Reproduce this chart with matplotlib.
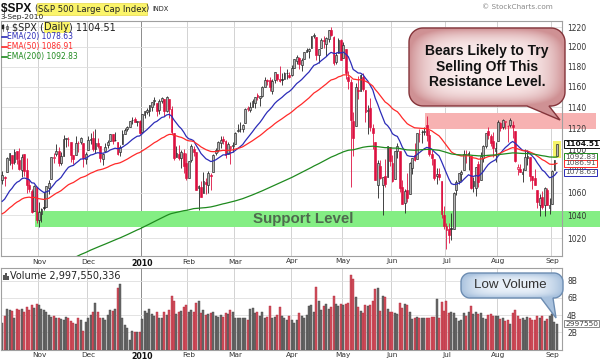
import numpy as np
import matplotlib
matplotlib.use("Agg")
import matplotlib.pyplot as plt
from matplotlib.patches import Rectangle, Polygon
from matplotlib.transforms import blended_transform_factory

# ---------------- data (S&P 500 daily, 12-Oct-2009 .. 3-Sep-2010) ----------------
prior_close = 1071.49
opens = [1071.6, 1074.9, 1078.7, 1090.4, 1094.7, 1088.2, 1098.6, 1090.4, 1080.9, 1095.6, 1080.4, 1067.5, 1061.5, 1043.7, 1065.4,
         1036.2, 1040.9, 1047.1, 1047.3, 1064.9, 1072.3, 1091.9, 1096.0, 1098.3, 1087.6, 1094.1, 1109.2, 1109.4, 1106.4, 1094.7, 1094.9, 1105.8, 1106.5, 1105.5, 1091.1,
         1098.9, 1109.0, 1110.6, 1100.4, 1105.5, 1103.0, 1091.1, 1098.7, 1103.9, 1107.8, 1114.1, 1108.6, 1106.4, 1097.9, 1105.3, 1114.5, 1118.8, 1121.1, 1127.5, 1128.6, 1125.5, 1126.6,
         1116.6, 1132.7, 1135.7, 1136.3, 1140.5, 1146.0, 1143.8, 1137.3, 1145.7, 1147.7, 1136.0, 1147.9, 1138.7, 1115.5, 1092.4, 1095.8, 1091.9, 1096.9, 1087.6,
         1073.9, 1090.1, 1100.7, 1097.3, 1064.1, 1065.5, 1060.1, 1069.5, 1067.1, 1076.0, 1079.1, 1096.1, 1099.0, 1105.5, 1110.0, 1107.5, 1095.9, 1101.2, 1103.1,
         1105.4, 1117.0, 1119.4, 1119.1, 1125.1, 1138.4, 1137.6, 1140.2, 1144.0, 1151.7, 1148.5, 1150.8, 1159.9, 1166.1, 1166.7, 1155.3, 1166.5, 1172.7, 1167.6, 1167.6, 1167.7, 1173.8, 1171.8,
         1171.2, 1178.7, 1186.0, 1188.2, 1181.8, 1187.5, 1194.9, 1195.9, 1198.7, 1210.8, 1210.2, 1192.1, 1199.0, 1207.2, 1202.5, 1207.9, 1217.1, 1209.9, 1184.6, 1193.3, 1206.8,
         1188.6, 1197.5, 1169.2, 1164.4, 1127.0, 1122.3, 1156.4, 1155.4, 1170.0, 1157.2, 1136.5, 1138.8, 1119.6, 1107.3, 1067.3, 1084.8, 1067.4, 1075.5, 1074.3, 1102.6,
         1087.3, 1073.0, 1098.8, 1098.4, 1065.8, 1050.8, 1062.8, 1058.8, 1082.7, 1095.0, 1091.2, 1114.0, 1116.0, 1116.2, 1122.8, 1113.9, 1095.6, 1090.9, 1075.1, 1077.5, 1071.1, 1040.6,
         1031.1, 1027.7, 1028.1, 1028.5, 1062.9, 1070.5, 1077.2, 1080.6, 1095.6, 1094.5, 1093.9, 1066.0, 1064.5, 1086.7, 1072.1, 1092.2, 1102.9, 1117.4, 1112.8, 1108.1, 1098.4,
         1107.5, 1125.3, 1121.1, 1125.8, 1122.1, 1122.8, 1122.9, 1116.9, 1081.5, 1082.2, 1077.5, 1081.2, 1092.1, 1092.4, 1075.6, 1073.4, 1062.9, 1049.0, 1056.3, 1049.3, 1062.9, 1046.9,
         1049.7, 1080.7, 1093.6]
highs = [1079.5, 1075.3, 1093.2, 1096.6, 1094.7, 1100.2, 1098.6, 1101.4, 1095.2, 1095.8, 1091.8, 1072.5, 1063.3, 1066.8, 1065.4,
         1052.2, 1046.4, 1061.0, 1066.7, 1071.5, 1093.2, 1096.4, 1105.4, 1101.7, 1097.6, 1113.7, 1110.5, 1111.1, 1106.4, 1094.7, 1112.4, 1107.6, 1111.2, 1105.5, 1097.2,
         1112.3, 1115.6, 1117.3, 1119.1, 1110.7, 1103.0, 1097.0, 1106.3, 1108.5, 1114.8, 1114.1, 1116.2, 1106.4, 1103.7, 1117.7, 1120.3, 1122.1, 1126.5, 1130.4, 1130.4, 1126.4, 1127.6,
         1133.9, 1136.6, 1139.2, 1142.5, 1145.4, 1149.7, 1143.8, 1148.4, 1150.4, 1147.7, 1150.5, 1147.9, 1141.6, 1115.5, 1102.7, 1103.7, 1099.5, 1100.2, 1096.5,
         1089.4, 1104.7, 1102.7, 1097.3, 1067.1, 1071.2, 1079.3, 1073.7, 1080.0, 1077.8, 1095.7, 1101.0, 1108.2, 1112.4, 1112.3, 1108.6, 1106.4, 1103.5, 1107.2,
         1116.1, 1123.5, 1125.6, 1123.7, 1139.4, 1141.1, 1145.4, 1148.3, 1150.2, 1153.4, 1151.0, 1160.3, 1169.2, 1167.8, 1169.2, 1167.8, 1174.7, 1173.0, 1180.7, 1173.9, 1174.9, 1177.8, 1174.6,
         1181.4, 1187.7, 1191.8, 1189.6, 1188.6, 1194.7, 1199.2, 1199.0, 1210.7, 1213.9, 1210.2, 1197.9, 1208.6, 1211.0, 1210.3, 1217.3, 1219.8, 1211.4, 1195.1, 1209.4, 1208.0,
         1205.1, 1197.5, 1176.0, 1167.6, 1135.1, 1163.9, 1170.5, 1172.9, 1173.6, 1157.2, 1141.9, 1148.7, 1124.3, 1107.3, 1090.2, 1090.0, 1074.8, 1090.8, 1103.5, 1102.6,
         1094.8, 1098.6, 1105.7, 1098.4, 1071.4, 1063.2, 1077.7, 1087.9, 1092.0, 1105.9, 1115.6, 1118.7, 1117.7, 1121.0, 1131.2, 1118.5, 1099.6, 1090.9, 1083.1, 1082.6, 1071.1, 1048.1,
         1033.6, 1032.9, 1042.5, 1060.9, 1071.3, 1078.2, 1080.8, 1099.1, 1099.1, 1098.7, 1093.9, 1074.7, 1083.9, 1089.0, 1097.5, 1103.7, 1115.0, 1121.0, 1114.7, 1115.9, 1106.4,
         1127.3, 1125.4, 1128.8, 1126.6, 1123.1, 1129.2, 1127.2, 1116.9, 1086.7, 1086.3, 1082.6, 1100.1, 1099.8, 1092.4, 1075.6, 1081.6, 1062.9, 1059.4, 1061.5, 1065.2, 1064.4, 1055.1,
         1081.3, 1090.1, 1105.1]
lows = [1068.0, 1066.7, 1078.7, 1085.9, 1081.5, 1086.5, 1086.2, 1080.8, 1074.3, 1075.5, 1060.3, 1060.6, 1042.2, 1043.7, 1033.4,
        1029.4, 1033.9, 1045.2, 1047.3, 1059.3, 1072.3, 1087.4, 1093.5, 1084.7, 1085.3, 1094.1, 1102.2, 1102.7, 1088.4, 1086.8, 1094.9, 1097.6, 1104.8, 1083.7, 1086.3,
        1098.9, 1105.3, 1098.7, 1096.5, 1100.8, 1088.6, 1085.9, 1098.7, 1101.3, 1107.8, 1105.4, 1107.9, 1095.0, 1093.9, 1105.3, 1114.5, 1116.9, 1121.1, 1123.5, 1126.1, 1121.9, 1114.8,
        1116.6, 1129.7, 1133.9, 1131.3, 1136.2, 1142.0, 1131.8, 1133.2, 1143.8, 1131.4, 1135.2, 1129.3, 1114.8, 1090.2, 1092.4, 1089.9, 1083.1, 1078.5, 1071.6,
        1073.9, 1088.0, 1093.6, 1062.8, 1044.5, 1056.5, 1060.1, 1059.3, 1060.1, 1063.0, 1079.1, 1094.7, 1097.5, 1100.8, 1105.4, 1092.2, 1095.5, 1086.0, 1097.6,
        1105.4, 1116.5, 1116.6, 1116.1, 1125.1, 1136.8, 1134.9, 1140.1, 1139.0, 1147.0, 1141.5, 1150.4, 1159.9, 1161.9, 1155.3, 1152.9, 1163.8, 1166.0, 1165.1, 1161.5, 1167.7, 1168.0, 1168.5,
        1170.7, 1178.7, 1182.8, 1177.3, 1175.1, 1187.1, 1194.7, 1188.8, 1198.7, 1208.5, 1186.8, 1183.7, 1199.0, 1198.9, 1190.2, 1205.1, 1211.1, 1181.6, 1182.8, 1193.3, 1186.3,
        1188.6, 1168.1, 1158.1, 1065.8, 1094.2, 1122.3, 1147.7, 1155.4, 1156.1, 1126.1, 1114.0, 1117.2, 1100.7, 1071.6, 1055.9, 1072.7, 1040.8, 1065.6, 1074.3, 1084.2,
        1069.9, 1072.2, 1091.8, 1060.5, 1049.9, 1042.2, 1052.3, 1058.8, 1077.5, 1089.0, 1091.2, 1107.1, 1105.9, 1113.9, 1108.2, 1094.2, 1085.3, 1071.6, 1067.9, 1071.5, 1038.1, 1028.3,
        1010.9, 1015.9, 1018.4, 1028.5, 1058.2, 1068.1, 1070.4, 1080.6, 1087.7, 1080.5, 1063.3, 1061.1, 1056.9, 1065.3, 1072.1, 1087.9, 1101.3, 1109.8, 1103.1, 1092.8, 1088.0,
        1107.5, 1116.8, 1119.5, 1118.9, 1107.2, 1120.9, 1111.0, 1088.6, 1076.7, 1079.0, 1069.5, 1081.2, 1085.8, 1070.7, 1063.9, 1067.1, 1046.3, 1039.8, 1045.4, 1039.7, 1048.8, 1040.9,
        1049.7, 1080.4, 1093.6]
closes = [1076.19, 1073.19, 1092.02, 1096.56, 1087.68, 1097.91, 1091.06, 1081.40, 1092.91, 1079.60, 1066.95, 1063.41, 1042.63, 1066.11, 1036.19,
          1042.88, 1045.41, 1046.50, 1066.63, 1069.30, 1093.08, 1093.01, 1098.51, 1087.24, 1093.48, 1109.30, 1110.32, 1109.80, 1094.90, 1091.38, 1106.24, 1105.65, 1110.63, 1091.49, 1095.63,
          1108.86, 1109.24, 1099.92, 1105.98, 1103.25, 1091.94, 1095.95, 1102.35, 1106.41, 1114.11, 1107.93, 1109.18, 1096.08, 1102.47, 1114.05, 1118.02, 1120.59, 1126.48, 1127.78, 1126.20, 1126.42, 1115.10,
          1132.99, 1136.52, 1137.14, 1141.69, 1144.98, 1146.98, 1136.22, 1145.68, 1148.46, 1136.03, 1150.23, 1138.04, 1116.48, 1091.76, 1096.78, 1092.17, 1097.50, 1084.53, 1073.87,
          1089.19, 1103.32, 1097.28, 1063.11, 1066.19, 1056.74, 1070.52, 1068.13, 1078.47, 1075.51, 1094.87, 1099.51, 1106.75, 1109.17, 1108.01, 1094.60, 1105.24, 1102.94, 1104.49,
          1115.71, 1118.31, 1118.79, 1122.97, 1138.70, 1138.50, 1140.45, 1145.61, 1150.24, 1149.99, 1150.51, 1159.46, 1166.21, 1165.83, 1159.90, 1165.81, 1174.17, 1167.72, 1165.73, 1166.59, 1173.22, 1173.27, 1169.43,
          1178.10, 1187.44, 1189.44, 1182.45, 1186.44, 1194.37, 1196.48, 1197.30, 1210.65, 1211.67, 1192.13, 1197.52, 1207.17, 1205.94, 1208.67, 1217.28, 1212.05, 1183.71, 1191.36, 1206.78, 1186.69,
          1202.26, 1173.60, 1165.87, 1128.15, 1110.88, 1159.73, 1155.79, 1171.67, 1157.44, 1135.68, 1136.94, 1120.80, 1115.05, 1071.59, 1087.69, 1073.65, 1074.03, 1067.95, 1103.06, 1089.41,
          1070.71, 1098.38, 1102.83, 1064.88, 1050.47, 1062.00, 1055.69, 1086.84, 1091.60, 1089.63, 1115.23, 1114.61, 1116.04, 1117.51, 1113.20, 1095.31, 1092.04, 1073.69, 1076.76, 1074.57, 1041.24, 1030.71,
          1027.37, 1022.58, 1028.06, 1060.27, 1070.25, 1077.96, 1078.75, 1095.34, 1095.17, 1096.48, 1064.88, 1071.25, 1083.48, 1069.59, 1093.67, 1102.66, 1115.01, 1113.84, 1106.13, 1101.53, 1101.60,
          1125.86, 1120.46, 1127.24, 1125.81, 1121.64, 1127.79, 1121.06, 1089.47, 1083.61, 1079.25, 1079.38, 1092.54, 1094.16, 1075.63, 1071.69, 1067.36, 1051.87, 1055.33, 1047.22, 1064.59, 1048.92, 1049.33,
          1080.29, 1090.10, 1104.51]
volumes_b = [3.1, 3.9, 4.7, 4.6, 4.45, 3.7, 4.75, 4.6, 4.75, 4.4, 4.95, 4.6, 5.2, 4.85, 5.3,
             5.15, 4.75, 4.6, 4.4, 4.0, 3.8, 3.9, 3.7, 3.6, 3.5, 3.4, 3.8, 3.6, 3.3, 3.1, 3.0, 3.6, 3.4, 2.1, 3.2,
             3.7, 4.0, 4.4, 5.4, 4.4, 3.7, 3.6, 3.4, 4.0, 4.6, 4.5, 4.75, 7.1, 7.65, 3.6, 2.9, 2.5, 1.1, 2.1, 2.0, 2.0, 2.0,
             3.5, 4.5, 4.2, 4.7, 4.1, 3.9, 4.3, 3.7, 3.6, 4.3, 4.0, 4.6, 6.2, 5.6, 4.1, 4.4, 4.5, 4.9, 5.2,
             4.4, 4.6, 4.3, 5.4, 5.6, 4.2, 4.6, 4.0, 4.1, 4.2, 4.3, 3.9, 3.8, 4.0, 3.8, 4.2, 4.1, 4.6, 4.3,
             3.7, 3.6, 3.7, 3.6, 3.6, 3.4, 4.75, 4.8, 4.2, 4.4, 3.9, 4.3, 3.7, 3.8, 5.0, 3.7, 3.8, 4.0, 4.9, 3.9, 3.7, 3.4, 3.9,
             3.4, 3.1, 3.4, 4.2, 3.9, 3.6, 4.0, 5.0, 5.2, 4.4, 7.3, 5.6, 4.6, 5.1, 5.3, 4.75, 4.9, 6.2, 5.3, 5.0, 5.3,
             5.2, 5.3, 5.45, 8.6, 8.15, 6.1, 4.9, 4.45, 4.2, 5.2, 5.05, 5.2, 5.65, 7.0, 7.15, 4.5, 6.2, 6.1, 4.75, 4.4,
             4.3, 4.2, 4.1, 5.4, 4.85, 5.25, 5.15, 4.4, 3.5, 3.65, 3.8, 3.6, 3.7, 3.6, 3.6, 3.7, 3.8, 3.8, 5.9, 3.6, 5.5, 4.5,
             5.6, 4.2, 4.4, 4.2, 3.6, 3.3, 3.4, 4.2, 3.9, 4.3, 5.0, 4.1, 4.4, 4.1, 4.2, 3.6, 3.5, 4.0, 4.1, 3.9, 3.9,
             3.9, 3.5, 3.6, 3.3, 3.4, 3.0, 4.2, 4.6, 3.9, 3.5, 3.6, 3.4, 3.8, 3.7, 3.4, 3.4, 3.9, 3.6, 3.9, 3.3, 3.5, 3.9,
             4.1, 3.2, 2.9976]

month_labels = ["Nov", "Dec", "2010", "Feb", "Mar", "Apr", "May", "Jun", "Jul", "Aug", "Sep"]
month_start_idx = [15, 35, 57, 76, 95, 118, 139, 159, 181, 202, 224]
price_ticks = [1020, 1040, 1060, 1080, 1100, 1120, 1140, 1160, 1180, 1200, 1220]
vol_ticks = [2, 4, 6, 8]
vol_tick_labels = ["2B", "4B", "6B", "8B"]
ema_periods = [20, 50, 200]
ema_seeds = [1050.0, 1040.0, 975.9]
ema_names = ["EMA(20) 1078.63", "EMA(50) 1086.91", "EMA(200) 1092.83"]
ema_last_values = [1078.63, 1086.91, 1092.83]
support_band = (1030.0, 1044.0)
resistance_band = (1119.5, 1134.0)

# ---------------- derived ----------------
n = len(closes)
idx = np.arange(n)
o = np.array(opens); h = np.array(highs); l = np.array(lows); c = np.array(closes)
prev = np.concatenate([[prior_close], c[:-1]])
down = c < prev

def ema(vals, period, seed):
    a = 2.0 / (period + 1)
    out, e = [], seed
    for v in vals:
        e = e + a * (v - e)
        out.append(e)
    return np.array(out)

emas = [ema(c, p, s) for p, s in zip(ema_periods, ema_seeds)]
ema_colors = ["#2c2cb8", "#ff2a2a", "#1f8a1f"]

# ---------------- figure ----------------
W, H = 600, 364
fig = plt.figure(figsize=(6.0, 3.64), dpi=100)
fig.patch.set_facecolor("white")

def fx(px): return px / W

L, R = 0.5, 561.5
ax = fig.add_axes([fx(L), 1 - 256 / H, (R - L) / W, (256 - 21) / H])
axv = fig.add_axes([fx(L), 1 - 349.5 / H, (R - L) / W, (349.5 - 268) / H])

x0i = 15 + (L - 39) / 2.4545
x1i = 15 + (R - 39) / 2.4545
FONT = "DejaVu Sans"
TXT = "#333333"

for a in (ax, axv):
    a.set_xlim(x0i, x1i)
    for s in a.spines.values():
        s.set_color("#a0a0a0"); s.set_linewidth(0.8)
    a.set_xticks(month_start_idx)
    a.set_xticklabels(month_labels, fontsize=5.3, family=FONT, color=TXT)
    a.tick_params(axis="x", length=0, pad=1.8)
    for lab in a.get_xticklabels():
        if lab.get_text() == "2010":
            lab.set_fontweight("bold"); lab.set_fontsize(5.7); lab.set_color("#111111")
    for k, m in enumerate(month_start_idx):
        a.axvline(m - 0.5, color="#8c8c8c" if month_labels[k] == "2010" else "#d2d2d2", lw=0.7, zorder=0)

# main price panel
ax.set_yscale("log")
ax.set_ylim(1004.8, 1226.5)
ax.yaxis.tick_right()
ax.set_yticks(price_ticks)
ax.set_yticklabels([str(t) for t in price_ticks], fontsize=5.5, family=FONT, color=TXT)
ax.yaxis.set_minor_locator(matplotlib.ticker.NullLocator())
ax.tick_params(axis="y", length=0, pad=4)
for t in price_ticks:
    ax.axhline(t, color="#dedede", lw=0.6, zorder=0)

bt = blended_transform_factory(fig.transFigure, ax.transData)
ax.add_patch(Rectangle((fx(35), support_band[0]), fx(600 - 35), support_band[1] - support_band[0],
                       transform=bt, facecolor="#84ee84", edgecolor="none", clip_on=False, zorder=0.5))
ax.add_patch(Rectangle((fx(425), resistance_band[0]), fx(596 - 425), resistance_band[1] - resistance_band[0],
                       transform=bt, facecolor="#f7b2b2", edgecolor="none", clip_on=False, zorder=0.5))

# last-bar highlight
ax.add_patch(Rectangle((n - 1 - 1.5, 1091.5), 3.0, 16.5, facecolor="#f6f36a", edgecolor="none", zorder=1))

# candles
RED, BLK = "#dd1040", "#222222"
for i in range(n):
    col = RED if down[i] else BLK
    ax.vlines(i, l[i], h[i], color=col, lw=0.6, zorder=3)
    lo, hi = min(o[i], c[i]), max(o[i], c[i])
    if hi - lo < 0.5:
        hi = lo + 0.5
    if c[i] >= o[i]:
        fc = "#f6b8c4" if down[i] else "#b4b4b4"
    else:
        fc = col
    ax.add_patch(Rectangle((i - 0.36, lo), 0.72, hi - lo, facecolor=fc, edgecolor=col, lw=0.45, zorder=3.2))

for e, col in zip(emas, ema_colors):
    ax.plot(idx, e, color=col, lw=0.9, zorder=4)

# volume panel
axv.set_ylim(0, (349.5 - 268) / 8.62)
axv.yaxis.tick_right()
axv.set_yticks(vol_ticks)
axv.set_yticklabels(vol_tick_labels, fontsize=5.5, family=FONT, color=TXT)
axv.tick_params(axis="y", length=0, pad=4)
for t in vol_ticks:
    axv.axhline(t, color="#dedede", lw=0.6, zorder=0)
vcol = ["#d2505e" if d else "#6a6a6a" for d in down]
vedge = ["#b02a3a" if d else "#444444" for d in down]
axv.bar(idx, volumes_b, width=0.8, color=vcol, edgecolor=vedge, linewidth=0.3, zorder=2)

# ---------------- overlay (pixel coordinates, y down) ----------------
ov = fig.add_axes([0, 0, 1, 1], zorder=10)
ov.set_xlim(0, W); ov.set_ylim(H, 0); ov.axis("off")
fig.canvas.draw()
rend = fig.canvas.get_renderer()

def chain(x, y, parts, **common):
    for s, kw in parts:
        kk = dict(common); kk.update(kw)
        t = ov.text(x, y, s, **kk)
        bb = t.get_window_extent(rend)
        x += bb.width

# header
chain(1, 9, [("$SPX ", dict(fontsize=8.6, fontweight="bold", family="Liberation Sans", color="#111111")),
             ("(", dict()),
             ("S&P 500 Large Cap Index", dict(bbox=dict(boxstyle="square,pad=0.12", fc="#fbf56a", ec="#e8d84a", lw=0.5))),
             (") ", dict()),
             ("INDX", dict(fontsize=4.8))],
      va="center", ha="left", fontsize=6.1, family=FONT, color="#222222")
ov.text(0.5, 17, "3-Sep-2010", fontsize=5.4, family=FONT, color="#222222", va="center", ha="left")
ov.text(553, 7, "\u00a9 StockCharts.com", fontsize=5.2, family=FONT, color="#8a8a8a", va="center", ha="right")

# legend inside price panel (small candle icon + labels)
ov.plot([3.2, 3.2], [23.5, 31], color="#222222", lw=0.4)
ov.add_patch(Rectangle((2.4, 25), 1.6, 4.0, fc="#222222", ec="#222222", lw=0.3))
ov.plot([6.8, 6.8], [23.5, 31], color="#222222", lw=0.4)
ov.add_patch(Rectangle((6.0, 25.5), 1.6, 3.5, fc="white", ec="#222222", lw=0.4))
chain(12.5, 27.5, [("$SPX (", dict()),
                   ("Daily", dict(bbox=dict(boxstyle="square,pad=0.08", fc="#fbf56a", ec="none"))),
                   (") 1104.51", dict())],
      va="center", ha="left", fontsize=7.0, family=FONT, color="#222222")
for k, (name, col) in enumerate(zip(ema_names, ema_colors)):
    yy = 37 + k * 9.8
    ov.plot([1.5, 6.5], [yy, yy], color=col, lw=1.2)
    ov.text(7.2, yy, name, fontsize=5.5, family=FONT, color=col, va="center", ha="left")

# volume legend with small bar icon
for bx, bh in [(3.0, 4.5), (5.0, 6.5), (7.0, 3.5)]:
    ov.add_patch(Rectangle((bx, 279.5 - bh), 1.5, bh, fc="#555555", ec="none"))
ov.text(10.5, 276.5, "Volume 2,997,550,336", va="center", ha="left", fontsize=7.0, family=FONT, color="#222222")

# Support text
ov.text(303, 219.5, "Support Level", fontsize=10.9, fontweight="bold", family="Liberation Sans",
        color="#4e6b4e", ha="center", va="center")

# value tags on the right axis
def ypix(a, v):
    return H - a.transData.transform((0, v))[1]

tags = [("1104.51", c[-1], "#111111", "#111111", "bold", 144.0),
        ("1092.83", ema_last_values[2], ema_colors[2], "#555555", "normal", None),
        ("1086.91", ema_last_values[1], ema_colors[1], "#555555", "normal", None),
        ("1078.63", ema_last_values[0], ema_colors[0], "#555555", "normal", None)]
for s, v, ec, tc, fw, yo in tags:
    yy = ypix(ax, v) if yo is None else yo
    ov.text(565, yy, s, fontsize=5.4, family=FONT, color=tc, fontweight=fw, va="center", ha="left",
            bbox=dict(boxstyle="square,pad=0.1", fc="white", ec=ec, lw=0.7))
ov.text(565, ypix(axv, volumes_b[-1]), "2997550", fontsize=5.4, family=FONT, color="#444444", va="center", ha="left",
        bbox=dict(boxstyle="square,pad=0.1", fc="white", ec="#888888", lw=0.7))

# callout bubbles
def bubble(x0, y0, x1, y1, r, base_a, base_b, tip, c_center, c_edge, c_border, z=20, pw=4):
    def arc(cx, cy, a0, a1):
        th = np.radians(np.linspace(a0, a1, 14))
        return [(cx + r * np.cos(t), cy + r * np.sin(t)) for t in th]
    pts = []
    pts += arc(x0 + r, y0 + r, 180, 270)
    pts += arc(x1 - r, y0 + r, 270, 360)
    pts += arc(x1 - r, y1 - r, 0, 90)
    pts += [(base_b, y1), tip, (base_a, y1)]
    pts += arc(x0 + r, y1 - r, 90, 180)
    poly = Polygon(pts, closed=True, facecolor="none", edgecolor=c_border, lw=1.0, zorder=z + 1)
    ov.add_patch(poly)
    ymax = max(y1, tip[1]); xmax = max(x1, tip[0])
    ny, nx = 120, 200
    X, Y = np.meshgrid(np.linspace(x0, xmax, nx), np.linspace(y0, ymax, ny))
    u = (X - (x0 + x1) / 2) / ((x1 - x0) / 2)
    v = (Y - (y0 + y1) / 2) / ((y1 - y0) / 2)
    d = np.clip((np.abs(u) ** 4 + np.abs(v) ** 4) ** 0.25, 0, 1) ** pw
    cc = np.array(matplotlib.colors.to_rgb(c_center)); ce = np.array(matplotlib.colors.to_rgb(c_edge))
    img = cc[None, None, :] * (1 - d[..., None]) + ce[None, None, :] * d[..., None]
    im = ov.imshow(img, extent=(x0, xmax, ymax, y0), origin="upper", aspect="auto", zorder=z, interpolation="bilinear")
    im.set_clip_path(poly)

bubble(409, 28, 565, 106, 14, 527, 549, (560, 120), "#fbeeee", "#cf9194", "#84343a", pw=4)
ov.text(487, 66.5, "Bears Likely to Try\nSelling Off This\nResistance Level.", fontsize=10, fontweight="bold",
        family="Liberation Sans", color="#111111", ha="center", va="center", linespacing=1.15, zorder=30)

bubble(461, 273, 563, 298, 9, 541, 553, (556, 318), "#eaf1f9", "#a9c2de", "#6d8db2", pw=3)
ov.text(510, 285, "Low Volume", fontsize=9.6, family="Liberation Sans", color="#333333",
        ha="center", va="center", zorder=30)

ov.set_xlim(0, W); ov.set_ylim(H, 0)
fig.savefig("out.png", dpi=100)
